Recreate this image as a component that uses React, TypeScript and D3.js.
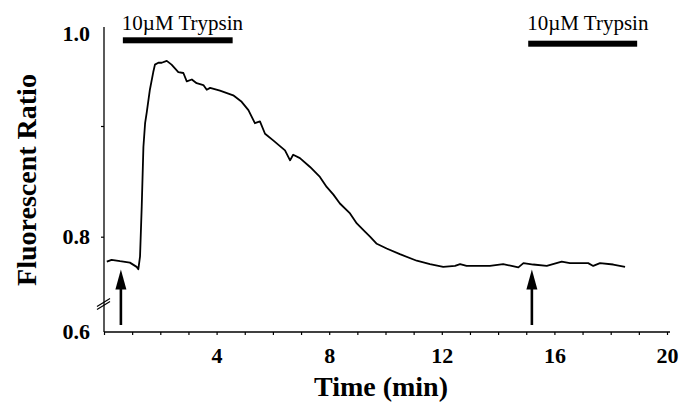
import React, { useEffect, useRef } from 'react';
import * as d3 from 'd3';

// trace: time (min) vs fluorescent ratio
const timeMin = [
  0.1, 0.27, 0.57, 0.92, 1.16, 1.22, 1.28, 1.34, 1.4, 1.46, 1.52, 1.63, 1.75, 1.81,
  1.93, 2.05, 2.23, 2.4, 2.64, 2.82, 2.94, 3.12, 3.29, 3.53, 3.65, 3.77, 4.12, 4.59,
  4.89, 5.13, 5.36, 5.54, 5.72, 6.01, 6.43, 6.61, 6.72, 6.96, 7.32, 7.67, 7.91, 8.15,
  8.38, 8.74, 8.98, 9.27, 9.45, 9.69, 10.04, 10.51, 11.11, 11.58, 12.05, 12.47, 12.65,
  12.88, 13.71, 14.18, 14.48, 14.72, 14.9, 15.25, 15.73, 16.26, 16.55, 17.2, 17.38,
  17.62, 18.09, 18.51,
];
const ratio = [
  0.747, 0.751, 0.748, 0.745, 0.736, 0.731, 0.758, 0.827, 0.881, 0.903, 0.915, 0.939,
  0.958, 0.966, 0.968, 0.968, 0.97, 0.966, 0.958, 0.957, 0.948, 0.95, 0.946, 0.944,
  0.939, 0.941, 0.938, 0.933, 0.926, 0.917, 0.903, 0.905, 0.893, 0.887, 0.878, 0.869,
  0.874, 0.871, 0.863, 0.854, 0.845, 0.838, 0.83, 0.821, 0.812, 0.8045, 0.8, 0.785,
  0.775, 0.763, 0.749, 0.742, 0.736, 0.738, 0.742, 0.738, 0.738, 0.742, 0.738, 0.735,
  0.744, 0.741, 0.738, 0.747, 0.744, 0.744, 0.738, 0.744, 0.741, 0.736,
];

// trypsin application periods (min)
const trypsinStart = [0.67, 15.07];
const trypsinEnd = [4.57, 18.94];
const trypsinLabel = '10\u00b5M Trypsin';
// arrows marking the additions
const arrowTimes = [0.6, 15.2];

const xLabels = [4, 8, 12, 16, 20];
const yLabels = [0.6, 0.8, 1.0];
const yMinor = [0.8, 0.9];

const serif = '"Liberation Serif", "Times New Roman", Times, serif';

export default function App() {
  const ref = useRef<SVGSVGElement>(null);

  useEffect(() => {
    const svg = d3.select(ref.current);
    svg.selectAll('*').remove();

    const x = d3.scaleLinear().domain([0, 20]).range([104, 667]);
    // broken axis: the part above 0.8 is stretched
    const y = d3.scaleLinear().domain([0.6, 0.8, 0.9, 1.0]).range([331, 236.7, 126, 33]);

    // x axis
    const gx = svg.append('g')
      .attr('transform', 'translate(0,' + (y(0.6) + 1) + ')')
      .call(d3.axisBottom(x)
        .tickValues(d3.range(0, 21))
        .tickSize(3)
        .tickSizeOuter(0)
        .tickFormat((d: any) => (xLabels.includes(d) ? String(d) : '')));
    gx.select('.domain').attr('d', 'M' + x(0) + ',0H' + (x(20) + 3)).attr('stroke-width', 1.3);
    gx.selectAll('.tick line').attr('stroke-width', 1.2);
    gx.selectAll('.tick text')
      .attr('y', 31).attr('dy', 0)
      .attr('font-family', serif).attr('font-size', 22).attr('font-weight', 'bold').attr('fill', '#000');

    // y axis
    const gy = svg.append('g')
      .attr('transform', 'translate(' + x(0) + ',0)')
      .call(d3.axisLeft(y)
        .tickValues([0.6, 0.8, 0.9, 1.0])
        .tickSize(3)
        .tickSizeOuter(0)
        .tickFormat((d: any) => (yLabels.includes(d) ? d3.format('.1f')(d) : '')));
    gy.select('.domain').attr('d', 'M0,' + (y(1.0) - 6) + 'V' + (y(0.6) + 1)).attr('stroke-width', 1.3);
    gy.selectAll('.tick line')
      .attr('stroke-width', 1.2)
      .attr('opacity', (d: any) => (yMinor.includes(d) ? 1 : 0));
    gy.selectAll('.tick text')
      .attr('x', -14)
      .attr('font-family', serif).attr('font-size', 22).attr('font-weight', 'bold').attr('fill', '#000');

    // axis break mark
    const by = 304;
    [-1.6, 1.6].forEach((off) => {
      svg.append('line')
        .attr('x1', x(0) - 7).attr('y1', by + 4 + off)
        .attr('x2', x(0) + 6).attr('y2', by - 4 + off)
        .attr('stroke', '#000').attr('stroke-width', 1.2);
    });

    // axis titles
    svg.append('text')
      .attr('transform', 'translate(36,180) rotate(-90)')
      .attr('text-anchor', 'middle')
      .attr('font-family', serif).attr('font-size', 28).attr('font-weight', 'bold')
      .text('Fluorescent Ratio');
    svg.append('text')
      .attr('x', 381).attr('y', 396)
      .attr('text-anchor', 'middle')
      .attr('font-family', serif).attr('font-size', 28).attr('font-weight', 'bold')
      .text('Time (min)');

    // trypsin bars + labels
    const barTop = [37.3, 40.7];
    trypsinStart.forEach((s, i) => {
      svg.append('rect')
        .attr('x', x(s)).attr('y', barTop[i])
        .attr('width', x(trypsinEnd[i]) - x(s)).attr('height', 6)
        .attr('fill', '#000');
      svg.append('text')
        .attr('x', x(s) - 1).attr('y', 29.6)
        .attr('font-family', serif).attr('font-size', 21)
        .text(trypsinLabel);
    });

    // arrows
    arrowTimes.forEach((t) => {
      const ax = x(t);
      const tip = 269.5;
      svg.append('line')
        .attr('x1', ax).attr('x2', ax)
        .attr('y1', 325).attr('y2', tip + 16)
        .attr('stroke', '#000').attr('stroke-width', 2.6);
      svg.append('path')
        .attr('d', 'M' + ax + ',' + tip + 'L' + (ax - 5.5) + ',' + (tip + 20) + 'L' + (ax + 5.5) + ',' + (tip + 20) + 'Z')
        .attr('fill', '#000');
    });

    // trace
    const line = d3.line<number>()
      .x((d, i) => x(timeMin[i]))
      .y((d) => y(d));
    svg.append('path')
      .datum(ratio)
      .attr('d', line)
      .attr('fill', 'none')
      .attr('stroke', '#000')
      .attr('stroke-width', 1.8)
      .attr('stroke-linejoin', 'round');
  }, []);

  return (
    <svg
      ref={ref}
      width={679}
      height={403}
      style={{ position: 'absolute', left: 0, top: 0, background: '#fff' }}
    />
  );
}
